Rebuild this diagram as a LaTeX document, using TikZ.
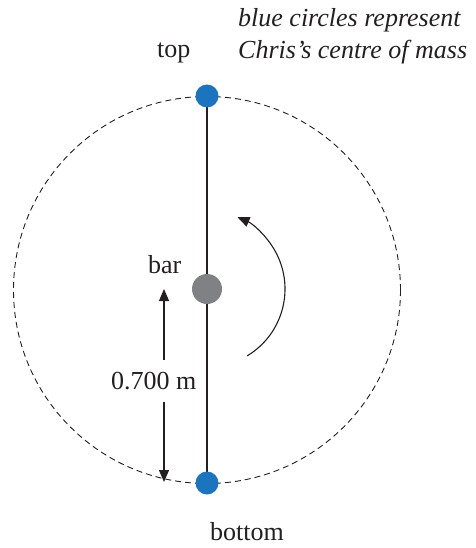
\documentclass[tikz,border=0pt]{standalone}
\usepackage{fontspec}
\setmainfont{Liberation Serif}
\usetikzlibrary{arrows.meta,backgrounds}
\definecolor{dotblue}{HTML}{1B74BD}
\definecolor{dotgray}{HTML}{808184}
\definecolor{ink}{HTML}{231F20}
\tikzset{
  bluedot/.style={circle,fill=dotblue,minimum size=23pt,inner sep=0pt},
  graydot/.style={circle,fill=dotgray,minimum size=30pt,inner sep=0pt},
  barline/.style={line width=2.8pt,draw=ink},
  orbit/.style={draw=ink,line width=0.9pt,dash pattern=on 6pt off 4pt},
  dimarrow/.style={draw=ink,line width=1.1pt,>={Triangle[length=12pt,width=10pt]}},
  lbl/.style={inner sep=0pt,anchor=base west,text=ink,font=\fontsize{26}{31}\selectfont},
  note/.style={lbl,font=\fontsize{26}{31}\selectfont\itshape}
}
\begin{document}
\begin{tikzpicture}[x=1pt,y=-1pt]
\useasboundingbox (0,0) rectangle (475,548);
% dots
\node[bluedot] (topdot) at (207,96) {};
\node[bluedot] (botdot) at (207,483) {};
\node[graydot] (bardot) at (207,289) {};
\begin{scope}[on background layer]
  \draw[orbit] (207,290) circle[radius=193.5];
  \draw[barline] (topdot.center) -- (botdot.center);
\end{scope}
% labels
\node[lbl] (toplbl) at (157,58) {top};
\node[lbl] (barlbl) at (148,273) {bar};
\node[lbl] (botlbl) at (210,540) {bottom};
\node[lbl] (dimlbl) at (111,389) {0.700 m};
\node[note] (note1) at (238,27) {blue circles represent};
\node[note] (note2) at (238,59) {Chris’s centre of mass};
% dimension arrow
\coordinate (a1) at (164,289);
\coordinate (a2) at (164,360);
\coordinate (a3) at (164,402);
\coordinate (a4) at (164,482);
\draw[dimarrow,<-] (a1) -- (a2);
\draw[dimarrow,->] (a3) -- (a4);
% rotation arrow
\draw[dimarrow,->] ([shift={(59:78)}]bardot.center) arc[start angle=59,end angle=-67,radius=78];
\end{tikzpicture}
\end{document}
